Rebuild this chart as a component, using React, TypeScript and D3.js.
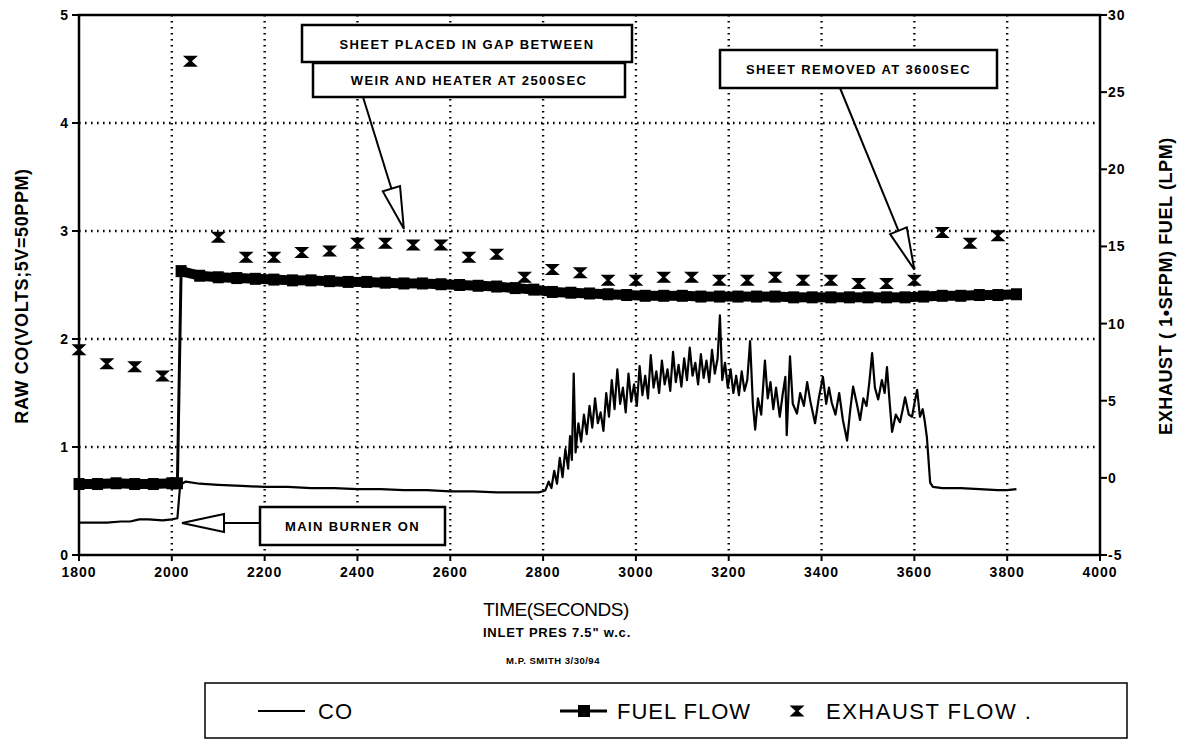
import { scaleLinear, line } from "d3";

const W = 1190;
const H = 749;

// axis ticks
const xTicks = [1800, 2000, 2200, 2400, 2600, 2800, 3000, 3200, 3400, 3600, 3800, 4000];
const leftTicks = [0, 1, 2, 3, 4, 5];
const rightTicks = [-5, 0, 5, 10, 15, 20, 25, 30];

// CO (left axis, volts)
const coTimes = [
  1800, 1830, 1860, 1890, 1910, 1930, 1950, 1980, 2000, 2012, 2018, 2030, 2060, 2100, 2150,
  2200, 2250, 2300, 2350, 2400, 2450, 2500, 2550, 2600, 2650, 2700, 2750, 2790, 2800,
  2805, 2812, 2818, 2824, 2830, 2836, 2842, 2848, 2854, 2858, 2862, 2866, 2870, 2876, 2882,
  2888, 2894, 2900, 2906, 2912, 2918, 2924, 2930, 2936, 2942, 2948, 2954, 2960, 2966, 2972,
  2978, 2984, 2990, 2996, 3002, 3008, 3014, 3020, 3026, 3032, 3038, 3044, 3050, 3056, 3062,
  3068, 3074, 3080, 3086, 3092, 3098, 3104, 3110, 3116, 3122, 3128, 3134, 3140, 3146, 3152,
  3158, 3164, 3170, 3176, 3181, 3186, 3192, 3198, 3204, 3210, 3216, 3222, 3228, 3234, 3240,
  3246, 3252, 3257, 3263, 3270, 3278, 3284, 3290, 3296, 3302, 3310, 3316, 3322, 3325, 3332,
  3338, 3347, 3354, 3362, 3369, 3376, 3386, 3394, 3403, 3410, 3416, 3422, 3430, 3438, 3446,
  3455, 3462, 3468, 3476, 3483, 3490, 3497, 3503, 3509, 3515, 3522, 3530, 3536, 3541, 3547,
  3552, 3560, 3569, 3575, 3580, 3588, 3595, 3600, 3606, 3612, 3618, 3622, 3627, 3634, 3640,
  3660, 3700, 3740, 3780, 3800, 3820,
];
const coValues = [
  0.3, 0.3, 0.3, 0.31, 0.31, 0.33, 0.33, 0.32, 0.33, 0.34, 0.65, 0.68, 0.66, 0.65, 0.64,
  0.63, 0.63, 0.62, 0.62, 0.61, 0.61, 0.6, 0.6, 0.59, 0.59, 0.58, 0.58, 0.58, 0.59,
  0.6, 0.68, 0.62, 0.78, 0.66, 0.9, 0.72, 0.98, 0.8, 1.1, 0.88, 1.68, 0.95, 1.22, 1.05,
  1.3, 1.12, 1.38, 1.18, 1.45, 1.22, 1.32, 1.15, 1.5, 1.28, 1.62, 1.35, 1.72, 1.4, 1.55,
  1.32, 1.68, 1.42, 1.58, 1.38, 1.75, 1.48, 1.66, 1.45, 1.85, 1.55, 1.7, 1.5, 1.8, 1.58,
  1.72, 1.52, 1.88, 1.6, 1.76, 1.56, 1.82, 1.62, 1.92, 1.66, 1.78, 1.58, 1.86, 1.64, 1.8,
  1.6, 1.9, 1.68, 1.82, 2.22, 1.62, 1.78, 1.55, 1.72, 1.5, 1.66, 1.48, 1.7, 1.52, 1.62,
  1.98, 1.4, 1.16, 1.45, 1.3, 1.8, 1.45, 1.6, 1.35, 1.55, 1.28, 1.48, 1.65, 1.11, 1.84,
  1.4, 1.31, 1.5, 1.38, 1.6, 1.42, 1.22, 1.45, 1.65, 1.4, 1.55, 1.41, 1.3, 1.5, 1.25,
  1.06, 1.35, 1.56, 1.4, 1.25, 1.45, 1.38, 1.6, 1.87, 1.55, 1.44, 1.62, 1.5, 1.74, 1.4,
  1.14, 1.3, 1.23, 1.35, 1.46, 1.3, 1.28, 1.4, 1.53, 1.28, 1.35, 1.25, 1.09, 0.67, 0.63,
  0.62, 0.62, 0.61, 0.6, 0.6, 0.61,
];

// fuel flow (right axis, LPM)
const fuelTimes = [
  1800, 1840, 1880, 1920, 1960, 2000, 2012,
  2020, 2060, 2100, 2140, 2180, 2220, 2260, 2300, 2340, 2380, 2420, 2460, 2500, 2540, 2580,
  2620, 2660, 2700, 2740, 2780, 2820, 2860, 2900, 2940, 2980, 3020, 3060, 3100, 3140, 3180,
  3220, 3260, 3300, 3340, 3380, 3420, 3460, 3500, 3540, 3580, 3620, 3660, 3700, 3740, 3780,
  3820,
];
const fuelValues = [
  -0.4, -0.4, -0.35, -0.4, -0.4, -0.35, -0.35,
  13.4, 13.1, 13.0, 12.95, 12.9, 12.85, 12.8, 12.8, 12.75, 12.7, 12.7, 12.65, 12.6, 12.6, 12.55,
  12.5, 12.45, 12.4, 12.3, 12.2, 12.05, 12.0, 11.95, 11.9, 11.85, 11.8, 11.8, 11.8, 11.75, 11.75,
  11.75, 11.75, 11.75, 11.7, 11.7, 11.7, 11.7, 11.7, 11.7, 11.7, 11.75, 11.8, 11.8, 11.85, 11.85,
  11.9,
];

// exhaust flow (right axis, SFPM)
const exhaustTimes = [
  1800, 1860, 1920, 1980, 2040, 2100, 2160, 2220, 2280, 2340, 2400, 2460, 2520, 2580, 2640,
  2700, 2760, 2820, 2880, 2940, 3000, 3060, 3120, 3180, 3240, 3300, 3360, 3420, 3480, 3540,
  3600, 3660, 3720, 3780,
];
const exhaustValues = [
  8.3, 7.4, 7.2, 6.6, 27.0, 15.6, 14.3, 14.3, 14.6, 14.7, 15.2, 15.2, 15.1, 15.1, 14.3,
  14.5, 13.0, 13.5, 13.3, 12.8, 12.8, 13.0, 13.0, 12.8, 12.8, 13.0, 12.8, 12.8, 12.6, 12.6,
  12.8, 15.9, 15.2, 15.7,
];

const x = scaleLinear().domain([1800, 4000]).range([79, 1100]);
const yL = scaleLinear().domain([0, 5]).range([555, 15]);
const yR = scaleLinear().domain([-5, 30]).range([555, 15]);

const font = "'Liberation Sans', Arial, sans-serif";
const hourglass = "M-7.5,-5.5 L7.5,-5.5 L1.5,0 L7.5,5.5 L-7.5,5.5 L-1.5,0 Z";

const coLine = line<number>()
  .x((_, i) => x(coTimes[i]))
  .y((d) => yL(d));
const fuelLine = line<number>()
  .x((_, i) => x(fuelTimes[i]))
  .y((d) => yR(d));

// hollow arrow head, tip at (tx,ty), coming from (fx,fy)
const arrowHead = (fx: number, fy: number, tx: number, ty: number, len = 42, half = 9) => {
  const a = Math.atan2(ty - fy, tx - fx);
  const bx = tx - len * Math.cos(a);
  const by = ty - len * Math.sin(a);
  const px = -Math.sin(a) * half;
  const py = Math.cos(a) * half;
  return `M${tx},${ty} L${bx + px},${by + py} L${bx - px},${by - py} Z`;
};

const Note = ({ x0, y0, x1, y1, text }: any) => (
  <g>
    <rect x={x0} y={y0} width={x1 - x0} height={y1 - y0} fill="white" stroke="black" strokeWidth={2.5} />
    <text
      x={(x0 + x1) / 2}
      y={(y0 + y1) / 2 + 5}
      textAnchor="middle"
      fontFamily={font}
      fontWeight={900}
      fontSize={13}
      letterSpacing={1.4}
    >
      {text}
    </text>
  </g>
);

const Arrow = ({ fx, fy, tx, ty }: any) => {
  const a = Math.atan2(ty - fy, tx - fx);
  const bx = tx - 42 * Math.cos(a);
  const by = ty - 42 * Math.sin(a);
  return (
    <g>
      <line x1={fx} y1={fy} x2={bx} y2={by} stroke="black" strokeWidth={2} />
      <path d={arrowHead(fx, fy, tx, ty)} fill="white" stroke="black" strokeWidth={2} />
    </g>
  );
};

export default function App() {
  const gridX = xTicks.filter((t) => t > 1800 && t < 4000);
  const gridY = leftTicks.filter((t) => t > 0 && t < 5);
  const dots = { stroke: "black", strokeWidth: 2.4, strokeDasharray: "1.6,4.4" };
  const tickFont = { fontFamily: font, fontWeight: 900, fontSize: 14, letterSpacing: 1 };

  return (
    <svg width={W} height={H} style={{ position: "absolute", left: 0, top: 0, background: "white" }}>
      {/* grid */}
      {gridX.map((t) => (
        <line key={"gx" + t} x1={x(t)} x2={x(t)} y1={15} y2={555} {...dots} />
      ))}
      {gridY.map((t) => (
        <line key={"gy" + t} x1={79} x2={1100} y1={yL(t)} y2={yL(t)} {...dots} />
      ))}

      {/* frame */}
      <rect x={79} y={15} width={1021} height={540} fill="none" stroke="black" strokeWidth={2.5} />

      {/* x axis */}
      {xTicks.map((t) => (
        <g key={"xt" + t}>
          <line x1={x(t)} x2={x(t)} y1={555} y2={561} stroke="black" strokeWidth={2} />
          <text x={x(t)} y={577} textAnchor="middle" {...tickFont}>
            {t}
          </text>
        </g>
      ))}
      {/* left axis */}
      {leftTicks.map((t) => (
        <g key={"lt" + t}>
          <line x1={72} x2={79} y1={yL(t)} y2={yL(t)} stroke="black" strokeWidth={2} />
          <text x={69} y={yL(t) + 5} textAnchor="end" {...tickFont}>
            {t}
          </text>
        </g>
      ))}
      {/* right axis */}
      {rightTicks.map((t) => (
        <g key={"rt" + t}>
          <line x1={1100} x2={1107} y1={yR(t)} y2={yR(t)} stroke="black" strokeWidth={2} />
          <text x={1108} y={yR(t) + 5} {...tickFont}>
            {t}
          </text>
        </g>
      ))}

      {/* axis titles */}
      <text
        transform="translate(28,296) rotate(-90)"
        textAnchor="middle"
        fontFamily={font}
        fontWeight={700}
        fontSize={18}
        letterSpacing={0.6}
      >
        RAW CO(VOLTS;5V=50PPM)
      </text>
      <text
        transform="translate(1172,286) rotate(-90)"
        textAnchor="middle"
        fontFamily={font}
        fontWeight={700}
        fontSize={18}
        letterSpacing={0.6}
      >
        EXHAUST ( 1•SFPM) FUEL (LPM)
      </text>
      <text x={556} y={616} textAnchor="middle" fontFamily={font} fontSize={19} letterSpacing={-0.5}>
        TIME(SECONDS)
      </text>
      <text x={557} y={637} textAnchor="middle" fontFamily={font} fontWeight={900} fontSize={13} letterSpacing={0.8}>
        INLET PRES 7.5" w.c.
      </text>
      <text x={553} y={664} textAnchor="middle" fontFamily={font} fontWeight={900} fontSize={9.5} letterSpacing={0.5}>
        M.P. SMITH 3/30/94
      </text>

      {/* CO */}
      <path d={coLine(coValues) || ""} fill="none" stroke="black" strokeWidth={2.2} strokeLinejoin="round" />

      {/* fuel flow */}
      <path d={fuelLine(fuelValues) || ""} fill="none" stroke="black" strokeWidth={3} />
      {fuelValues.slice(1).map((v, i) =>
        Math.abs(v - fuelValues[i]) < 3 ? (
          <line
            key={"fs" + i}
            x1={x(fuelTimes[i])}
            y1={yR(fuelValues[i])}
            x2={x(fuelTimes[i + 1])}
            y2={yR(v)}
            stroke="black"
            strokeWidth={10}
          />
        ) : null
      )}
      {fuelValues.map((v, i) => (
        <rect key={"fm" + i} x={x(fuelTimes[i]) - 5.5} y={yR(v) - 6} width={11} height={12} fill="black" />
      ))}

      {/* exhaust flow */}
      {exhaustValues.map((v, i) => (
        <path key={"ex" + i} d={hourglass} transform={`translate(${x(exhaustTimes[i])},${yR(v)})`} fill="black" />
      ))}

      {/* annotations */}
      <Arrow fx={363} fy={97} tx={x(2500)} ty={yL(3.02)} />
      <Note x0={302} y0={25} x1={632} y1={62} text="SHEET PLACED IN GAP BETWEEN" />
      <Note x0={313} y0={63} x1={625} y1={97} text="WEIR AND HEATER AT 2500SEC" />
      <Arrow fx={840} fy={88} tx={x(3600)} ty={yR(13.5)} />
      <Note x0={720} y0={50} x1={997} y1={88} text="SHEET REMOVED AT 3600SEC" />
      <Arrow fx={260} fy={523} tx={x(2022)} ty={523} />
      <Note x0={260} y0={507} x1={445} y1={545} text="MAIN BURNER ON" />

      {/* legend */}
      <rect x={205} y={683} width={922} height={55} fill="white" stroke="black" strokeWidth={1.5} />
      <line x1={258} x2={305} y1={711} y2={711} stroke="black" strokeWidth={2} />
      <text x={318} y={719} fontFamily={font} fontSize={22} letterSpacing={1}>CO</text>
      <line x1={560} x2={607} y1={711} y2={711} stroke="black" strokeWidth={3} />
      <rect x={578} y={705} width={12} height={12} fill="black" />
      <text x={617} y={719} fontFamily={font} fontSize={22} letterSpacing={1}>FUEL FLOW</text>
      <path d={hourglass} transform="translate(797,711)" fill="black" />
      <text x={826} y={719} fontFamily={font} fontSize={22} letterSpacing={1.5}>EXHAUST FLOW .</text>
    </svg>
  );
}
